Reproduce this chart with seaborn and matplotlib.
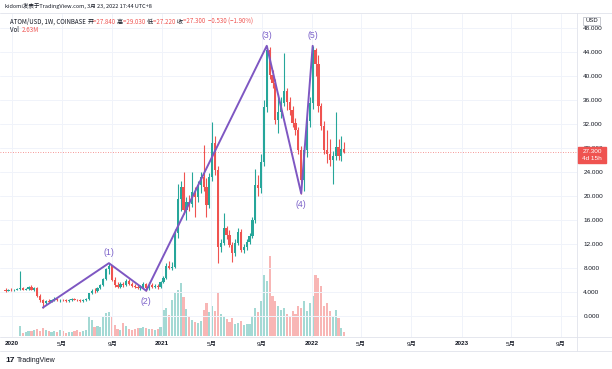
import numpy as np
import pandas as pd
import matplotlib
matplotlib.use("Agg")
import matplotlib.pyplot as plt
import seaborn as sns
from matplotlib.patches import Rectangle
from matplotlib.lines import Line2D

# ---------------- data (weekly ATOM/USD) ----------------
start_date = "2019-12-16"
opens = [4.3, 4.2, 4.4, 4.3, 4.4, 4.5, 4.6, 4.4, 4.5, 4.8,
         4.4, 4.7, 3.4, 2.7, 2.2, 2.5, 2.4, 2.7, 2.9, 2.6,
         2.7, 2.6, 2.5, 2.7, 2.8, 2.7, 2.6, 2.5, 2.7, 2.8,
         3.8, 4.2, 4.1, 4.7, 5.1, 6.2, 7.8, 8.3, 6.0, 5.2,
         4.9, 5.4, 5.1, 5.8, 5.4, 5.0, 4.8, 4.7, 4.9, 5.3,
         4.6, 5.2, 4.9, 5.0, 4.8, 5.7, 6.4, 8.4, 8.0, 8.2,
         13.8, 19.5, 21.5, 17.7, 19.0, 18.6, 20.6, 19.8, 21.8, 23.2,
         21.5, 18.5, 23.2, 28.8, 24.3, 11.5, 12.2, 14.6, 13.5, 11.9,
         10.5, 12.2, 14.0, 11.0, 11.5, 12.3, 13.3, 16.0, 21.8, 21.3,
         25.7, 34.8, 44.3, 40.2, 38.8, 32.7, 34.0, 35.5, 37.4, 35.7,
         34.3, 32.1, 30.9, 27.7, 22.6, 27.7, 32.4, 35.4, 44.3, 42.0,
         34.9, 31.6, 27.7, 27.0, 26.0, 26.6, 28.2, 26.6, 27.84]
highs = [4.6, 4.5, 4.6, 4.5, 4.7, 7.5, 4.8, 4.7, 5.0, 5.1,
         4.9, 4.8, 3.6, 2.9, 2.7, 2.8, 2.9, 3.1, 3.0, 2.9,
         2.9, 2.8, 2.8, 3.0, 3.0, 2.9, 2.8, 2.8, 3.0, 3.9,
         4.5, 4.6, 4.9, 5.4, 6.4, 8.0, 8.8, 8.5, 6.5, 5.6,
         5.6, 5.7, 6.1, 6.2, 5.7, 5.3, 5.2, 5.1, 5.7, 5.5,
         5.6, 5.5, 5.4, 5.4, 5.9, 6.6, 8.8, 9.2, 9.0, 14.5,
         22.0, 22.5, 24.0, 19.8, 20.2, 24.0, 21.5, 22.5, 24.0, 28.5,
         23.0, 23.8, 32.3, 30.0, 25.0, 12.8, 17.2, 15.0, 14.4, 12.4,
         12.8, 14.6, 14.5, 12.0, 12.8, 13.8, 16.5, 24.5, 23.5, 27.0,
         36.0, 45.0, 44.8, 41.0, 39.5, 37.0, 36.5, 43.8, 38.0, 36.5,
         35.0, 33.0, 31.5, 28.3, 28.5, 33.0, 36.5, 45.0, 44.6, 43.5,
         35.5, 32.5, 31.0, 29.5, 27.5, 34.0, 29.5, 30.0, 29.03]
lows = [4.0, 4.1, 4.2, 4.2, 4.3, 4.3, 4.3, 4.3, 4.4, 4.3,
        4.2, 3.2, 2.4, 1.4, 2.0, 2.2, 2.3, 2.5, 2.5, 2.4,
        2.5, 2.4, 2.4, 2.5, 2.6, 2.5, 2.4, 2.4, 2.5, 2.7,
        3.6, 3.9, 4.0, 4.5, 5.0, 6.0, 7.0, 5.8, 4.8, 4.6,
        4.7, 4.9, 5.0, 5.2, 4.9, 4.6, 4.5, 4.4, 4.7, 4.2,
        4.4, 4.7, 4.6, 4.5, 4.7, 5.5, 6.2, 7.8, 7.6, 8.0,
        13.0, 17.5, 17.0, 16.0, 17.5, 18.2, 16.5, 19.0, 20.5, 20.8,
        16.5, 18.0, 22.5, 23.5, 8.8, 10.6, 11.8, 12.8, 11.5, 9.0,
        10.0, 11.8, 10.6, 10.5, 11.0, 12.0, 13.0, 15.5, 20.0, 20.5,
        25.0, 34.0, 39.5, 38.0, 32.0, 30.4, 33.0, 35.0, 34.3, 33.5,
        31.5, 30.2, 27.0, 20.4, 20.8, 26.5, 31.5, 34.5, 40.0, 34.0,
        31.0, 27.0, 25.5, 25.0, 22.0, 26.0, 26.0, 25.8, 27.22]
closes = [4.2, 4.4, 4.3, 4.4, 4.5, 4.6, 4.4, 4.5, 4.8, 4.4,
          4.7, 3.4, 2.7, 2.2, 2.5, 2.4, 2.7, 2.9, 2.6, 2.7,
          2.6, 2.5, 2.7, 2.8, 2.7, 2.6, 2.5, 2.7, 2.8, 3.8,
          4.2, 4.1, 4.7, 5.1, 6.2, 7.8, 8.3, 6.0, 5.2, 4.9,
          5.4, 5.1, 5.8, 5.4, 5.0, 4.8, 4.7, 4.9, 5.3, 4.6,
          5.2, 4.9, 5.0, 4.8, 5.7, 6.4, 8.4, 8.0, 8.2, 13.8,
          19.5, 21.5, 17.7, 19.0, 18.6, 20.6, 19.8, 21.8, 23.2, 21.5,
          18.5, 23.2, 28.8, 24.3, 11.5, 12.2, 14.6, 13.5, 11.9, 10.5,
          12.2, 14.0, 11.0, 11.5, 12.3, 13.3, 16.0, 21.8, 21.3, 25.7,
          34.8, 44.3, 40.2, 38.8, 32.7, 34.0, 35.5, 37.4, 35.7, 34.3,
          32.1, 30.9, 27.7, 22.6, 27.7, 32.4, 35.4, 44.3, 42.0, 34.9,
          31.6, 27.7, 27.0, 26.0, 26.6, 28.2, 26.6, 27.84, 27.30]
# weekly volume, millions (no volume before Coinbase listing)
volumes = [None, None, None, None, None, 6.5, 2.0, 2.6, 3.3, 3.3,
           3.9, 4.6, 3.3, 5.2, 3.9, 3.3, 2.6, 3.3, 2.6, 3.9,
           3.3, 2.0, 2.6, 2.6, 3.3, 3.9, 2.6, 3.3, 3.9, 12.4,
           10.4, 5.9, 6.5, 5.9, 12.4, 15.0, 15.6, 12.4, 7.2, 4.6,
           3.9, 8.5, 6.5, 4.6, 3.9, 4.6, 5.2, 5.2, 5.9, 5.2,
           4.6, 4.6, 3.9, 4.6, 5.9, 16.9, 18.2, 13.7, 23.4, 28.0,
           29.9, 34.5, 25.4, 17.6, 13.0, 10.4, 9.1, 8.5, 9.8, 16.9,
           21.5, 15.6, 19.5, 16.3, 28.0, 14.3, 13.0, 11.1, 9.1, 11.7,
           7.8, 8.5, 9.8, 7.2, 7.8, 7.8, 13.0, 18.2, 15.6, 22.8,
           39.7, 35.8, 52.0, 26.0, 22.8, 19.5, 16.9, 18.2, 14.3, 13.0,
           16.3, 14.3, 19.5, 18.2, 22.8, 16.3, 21.5, 26.0, 39.7, 37.7,
           32.5, 19.5, 21.5, 16.3, 13.0, 16.9, 11.7, 5.2, 2.6]
# pattern pivots (week index, price) and labels
pivot_weeks = [13, 36, 49, 91, 103, 107]
pivot_prices = [1.4, 8.8, 4.2, 45.0, 20.4, 45.0]
pivot_labels = ["", "(1)", "(2)", "(3)", "(4)", "(5)"]
price_ticks = [0, 4, 8, 12, 16, 20, 24, 28, 32, 36, 40, 44, 48]
time_tick_dates = ["2020-01-01", "2020-05-01", "2020-09-01", "2021-01-01",
                   "2021-05-01", "2021-09-01", "2022-01-01", "2022-05-01",
                   "2022-09-01", "2023-01-01", "2023-05-01", "2023-09-01"]
time_tick_labels = ["2020", "5月", "9月", "2021", "5月", "9月",
                    "2022", "5月", "9月", "2023", "5月", "9月"]
last_price = 27.30

# ---------------- figure ----------------
sns.set_theme(style="white")
plt.rcParams["font.family"] = ["Liberation Sans", "Noto Sans CJK SC", "DejaVu Sans"]
CJK = ["Noto Sans CJK SC", "DejaVu Sans"]

UP, DOWN = "#26a69a", "#ef5350"
TXT = "#131722"
GRID = "#f0f3fa"
BORDER = "#e0e3eb"
PURPLE = "#7e57c2"

W, H = 612, 369
fig = plt.figure(figsize=(W / 100, H / 100), dpi=100)
fig.patch.set_facecolor("white")


def fx(px):
    return px / W


def fy(py):
    return 1 - py / H


rect = [0, fy(337), fx(577), fy(14) - fy(337)]
vax = fig.add_axes(rect, zorder=0)
ax = fig.add_axes(rect, zorder=1)
ax.patch.set_alpha(0)

O = np.array(opens)
Hh = np.array(highs)
L = np.array(lows)
C = np.array(closes)
n = len(C)
idx = np.arange(n)
dates = pd.date_range(start_date, periods=n, freq="7D")
cols = np.where(C >= O, UP, DOWN)

XLIM = (-1.95, 199.1)

# volume (seaborn)
vdf = pd.DataFrame({"week": idx, "vol": pd.array(volumes, dtype="Float64"),
                    "dir": np.where(C >= O, "up", "down")}).dropna()
vdf["vol"] = vdf["vol"].astype(float)
sns.barplot(data=vdf, x="week", y="vol", hue="dir",
            palette={"up": UP, "down": DOWN}, native_scale=True, dodge=False,
            width=0.75, alpha=0.42, saturation=1, errorbar=None,
            legend=False, linewidth=0, ax=vax)
vax.set_xlim(*XLIM)
vax.set_ylim(-0.6, 210)
vax.axis("off")

# grid
tick_pos = (pd.to_datetime(time_tick_dates) - dates[0]).days / 7.0
for p in price_ticks:
    ax.axhline(p, color=GRID, lw=0.7, zorder=0)
for t in tick_pos:
    ax.axvline(t, color=GRID, lw=0.7, zorder=0)

# candles
ax.vlines(idx, L, Hh, colors=cols, lw=0.8, zorder=2)
body = np.maximum(np.abs(C - O), 0.1)
ax.bar(idx, body, bottom=np.minimum(O, C), width=0.78, color=cols,
       linewidth=0, zorder=3)

# last price dotted line
ax.axhline(last_price, color=DOWN, lw=0.6, ls=(0, (1, 2)), alpha=0.8, zorder=1)

# pattern
sns.lineplot(x=pivot_weeks, y=pivot_prices, ax=ax, color=PURPLE, linewidth=1.4,
             sort=False, estimator=None, legend=False, zorder=4)
for k, (w, p, lab) in enumerate(zip(pivot_weeks, pivot_prices, pivot_labels)):
    if not lab:
        continue
    is_high = p >= pivot_prices[k - 1]
    ax.annotate(lab, (w, p), xytext=(0, 4.5 if is_high else -4.8),
                textcoords="offset points", ha="center",
                va="bottom" if is_high else "top",
                fontsize=6.3, color="#7b61c9", zorder=5)

ax.set_xlim(*XLIM)
ax.set_ylim(-3.5, 50.3)
for s in ax.spines.values():
    s.set_visible(False)

ax.yaxis.tick_right()
ax.set_yticks(price_ticks)
ax.set_yticklabels([f"{v:.3f}" for v in price_ticks])
ax.tick_params(axis="y", length=0, pad=4.5, labelsize=4.6, labelcolor=TXT)
ax.set_xticks(tick_pos)
ax.set_xticklabels(time_tick_labels)
ax.tick_params(axis="x", length=0, pad=3.2, labelsize=4.6, labelcolor=TXT)
for lab in ax.get_xticklabels():
    if lab.get_text().isdigit():
        lab.set_fontweight("bold")

# borders
for (x0, y0, x1, y1) in [(0, 13, 612, 13), (577, 13, 577, 351),
                         (0, 337, 612, 337), (0, 351, 612, 351)]:
    fig.add_artist(Line2D([fx(x0), fx(x1)], [fy(y0), fy(y1)],
                          color=BORDER, lw=0.6, transform=fig.transFigure))

# price label box
fig.add_artist(Rectangle((fx(578), fy(163)), fx(28), 16.5 / H,
                         transform=fig.transFigure, color=DOWN, zorder=6))
fig.text(fx(592), fy(151.5), "27.300", color="white", fontsize=4.6,
         ha="center", va="center", zorder=7)
fig.text(fx(592), fy(158.8), "4d 15h", color="white", fontsize=4.6,
         ha="center", va="center", zorder=7)

# USD box
fig.add_artist(Rectangle((fx(583), fy(25)), fx(17), 8 / H,
                         transform=fig.transFigure, facecolor="white",
                         edgecolor="#b2b5be", lw=0.5, zorder=6))
fig.text(fx(591.5), fy(21), "USD", color=TXT, fontsize=4.2,
         ha="center", va="center", zorder=7)

# header texts
renderer = fig.canvas.get_renderer()


def seg_text(x_px, y_px, parts, size):
    x = x_px
    for s, c in parts:
        t = fig.text(fx(x), fy(y_px), s, color=c, fontsize=size,
                     ha="left", va="center", family=CJK)
        x += t.get_window_extent(renderer).width


fig.text(fx(5), fy(5.8), "kidomi发表于TradingView.com, 3月 23, 2022 17:44 UTC+8",
         color=TXT, fontsize=4.0, ha="left", va="center", family=CJK)
seg_text(10, 21.5, [("ATOM/USD, 1W, COINBASE ", TXT), ("开", TXT), ("=27.840 ", DOWN),
                    ("高", TXT), ("=29.030 ", DOWN), ("低", TXT), ("=27.220 ", DOWN),
                    ("收", TXT), ("=27.300  −0.530 (−1.90%)", DOWN)], 4.4)
seg_text(10, 30.5, [("Vol  ", TXT), ("2.63M", DOWN)], 4.4)

# logo
fig.text(fx(5), fy(360), "17", color=TXT, fontsize=6, fontweight="bold",
         ha="left", va="center")
fig.text(fx(17), fy(360), "TradingView", color=TXT, fontsize=5,
         ha="left", va="center")

fig.savefig("out.png", dpi=100, facecolor="white")
